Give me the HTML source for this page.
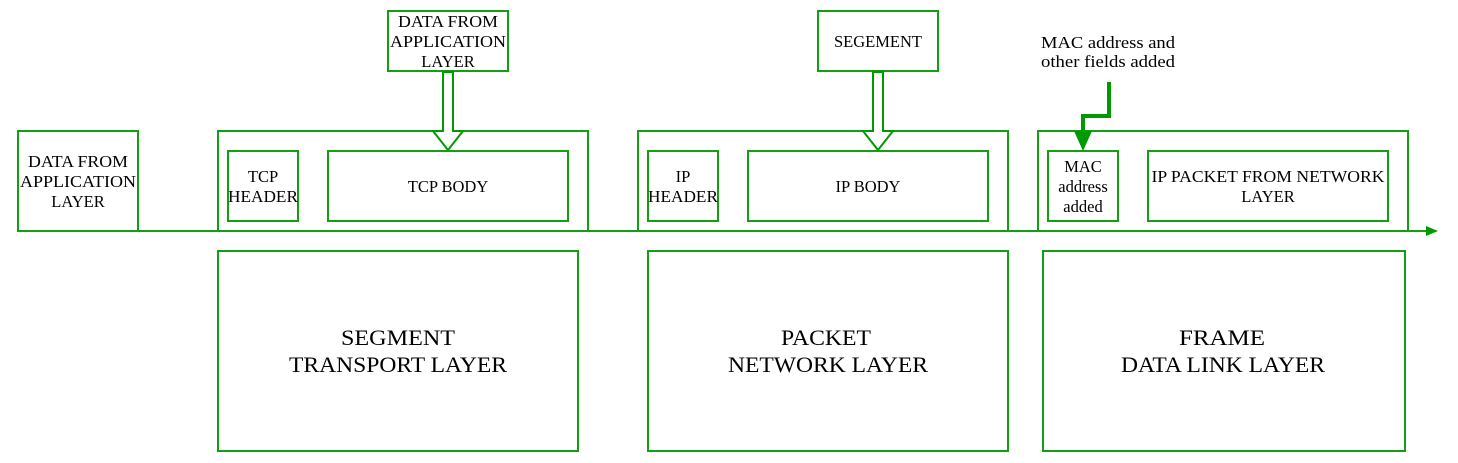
<!DOCTYPE html>
<html><head><meta charset="utf-8"><style>
html,body{margin:0;padding:0;background:#fff;}
svg{display:block;}
text{font-family:"Liberation Serif",serif;fill:#000;}
.s{font-size:16.5px;}
.b{font-size:22px;}
</style></head><body>
<svg width="1458" height="463" viewBox="0 0 1458 463" xmlns="http://www.w3.org/2000/svg">
<g fill="none" stroke="#12a012" stroke-width="2">
<line x1="138" y1="231" x2="1430" y2="231"/>
<rect x="18" y="131" width="120" height="100"/>
<rect x="218" y="131" width="370" height="100"/>
<rect x="228" y="151" width="70" height="70"/>
<rect x="328" y="151" width="240" height="70"/>
<rect x="388" y="11" width="120" height="60"/>
<rect x="638" y="131" width="370" height="100"/>
<rect x="648" y="151" width="70" height="70"/>
<rect x="748" y="151" width="240" height="70"/>
<rect x="818" y="11" width="120" height="60"/>
<rect x="1038" y="131" width="370" height="100"/>
<rect x="1048" y="151" width="70" height="70"/>
<rect x="1148" y="151" width="240" height="70"/>
<rect x="218" y="251" width="360" height="200"/>
<rect x="648" y="251" width="360" height="200"/>
<rect x="1043" y="251" width="362" height="200"/>
</g>
<g fill="#fff" stroke="#009900" stroke-width="2">
<path d="M443,72 V131 H433 L448,150 L463,131 H453 V72 Z"/>
<path d="M873,72 V131 H863 L878,150 L893,131 H883 V72 Z"/>
</g>
<polyline points="1109,82 1109,116 1083,116 1083,136" fill="none" stroke="#009900" stroke-width="4"/>
<polygon points="1074,131 1092,131 1083,151" fill="#009900"/>
<polygon points="1426,226 1438,231 1426,236" fill="#009900"/>
<g class="s" text-anchor="middle">
<text x="78" y="167" textLength="100" lengthAdjust="spacingAndGlyphs">DATA FROM</text><text x="78" y="187" textLength="116" lengthAdjust="spacingAndGlyphs">APPLICATION</text><text x="78" y="207">LAYER</text>
<text x="263" y="182">TCP</text><text x="263" y="202" textLength="70" lengthAdjust="spacingAndGlyphs">HEADER</text>
<text x="448" y="192">TCP BODY</text>
<text x="448" y="27" textLength="100" lengthAdjust="spacingAndGlyphs">DATA FROM</text><text x="448" y="47" textLength="116" lengthAdjust="spacingAndGlyphs">APPLICATION</text><text x="448" y="67">LAYER</text>
<text x="683" y="182">IP</text><text x="683" y="202" textLength="70" lengthAdjust="spacingAndGlyphs">HEADER</text>
<text x="868" y="192">IP BODY</text>
<text x="878" y="47">SEGEMENT</text>
<text x="1108" y="48" textLength="134" lengthAdjust="spacingAndGlyphs">MAC address and</text><text x="1108" y="67" textLength="134" lengthAdjust="spacingAndGlyphs">other fields added</text>
<text x="1083" y="172">MAC</text><text x="1083" y="192">address</text><text x="1083" y="212">added</text>
<text x="1268" y="182" textLength="233" lengthAdjust="spacingAndGlyphs">IP PACKET FROM NETWORK</text><text x="1268" y="202">LAYER</text>
</g>
<g class="b" text-anchor="middle">
<text x="398" y="345" textLength="114" lengthAdjust="spacingAndGlyphs">SEGMENT</text><text x="398" y="372" textLength="218" lengthAdjust="spacingAndGlyphs">TRANSPORT LAYER</text>
<text x="826" y="345" textLength="90" lengthAdjust="spacingAndGlyphs">PACKET</text><text x="828" y="372" textLength="200" lengthAdjust="spacingAndGlyphs">NETWORK LAYER</text>
<text x="1222" y="345" textLength="86" lengthAdjust="spacingAndGlyphs">FRAME</text><text x="1223" y="372" textLength="204" lengthAdjust="spacingAndGlyphs">DATA LINK LAYER</text>
</g>
</svg>
</body></html>
